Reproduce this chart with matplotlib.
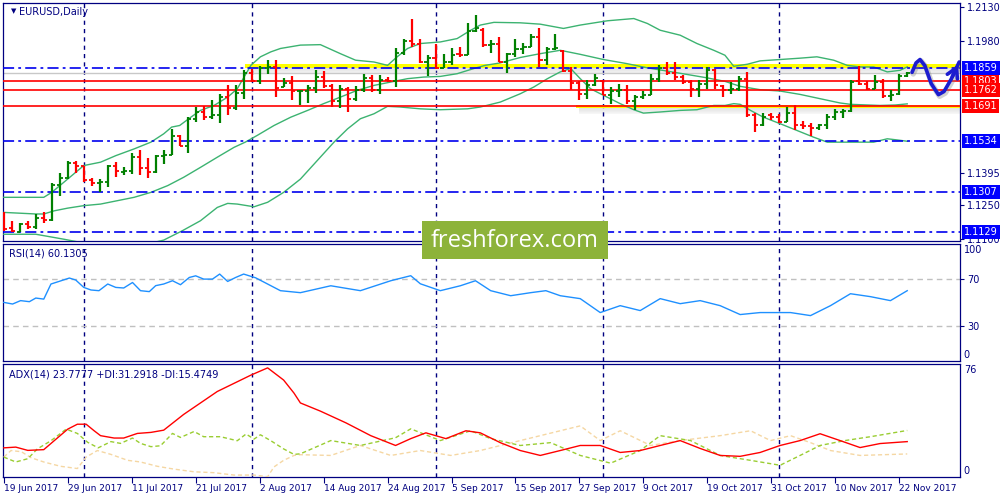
import matplotlib
matplotlib.use("Agg")
import matplotlib.pyplot as plt
from matplotlib.patches import Rectangle
import numpy as np

plt.rcParams['lines.scale_dashes'] = False
plt.rcParams['font.family'] = ['DejaVu Sans']

# daily bars, 19 Jun 2017 .. 23 Nov 2017 (trading days only)
opens = [1.1198, 1.1147, 1.1131, 1.1166, 1.1151, 1.1195, 1.1183, 1.1338, 1.1372, 1.1439,
         1.1424, 1.1363, 1.1348, 1.1351, 1.1423, 1.1398, 1.1401, 1.1466, 1.1413, 1.1398,
         1.1470, 1.1475, 1.1557, 1.1513, 1.1633, 1.1664, 1.1640, 1.1650, 1.1730, 1.1680,
         1.1750, 1.1838, 1.1801, 1.1860, 1.1863, 1.1777, 1.1792, 1.1755, 1.1756, 1.1770,
         1.1821, 1.1779, 1.1713, 1.1767, 1.1723, 1.1760, 1.1815, 1.1761, 1.1807, 1.1801,
         1.1924, 1.1978, 1.1968, 1.1888, 1.1904, 1.1859, 1.1888, 1.1920, 1.1916, 1.2025,
         1.2030, 1.1960, 1.1965, 1.1888, 1.1920, 1.1944, 1.1954, 1.1997, 1.1893, 1.1942,
         1.1935, 1.1848, 1.1792, 1.1745, 1.1785, 1.1800, 1.1740, 1.1755, 1.1762, 1.1712,
         1.1730, 1.1740, 1.1810, 1.1860, 1.1835, 1.1820, 1.1797, 1.1765, 1.1790, 1.1850,
         1.1780, 1.1760, 1.1765, 1.1810, 1.1650, 1.1604, 1.1650, 1.1640, 1.1619, 1.1660,
         1.1608, 1.1600, 1.1595, 1.1605, 1.1640, 1.1665, 1.1668, 1.1800, 1.1790, 1.1768,
         1.1795, 1.1733, 1.1742, 1.1822]
highs = [1.1218, 1.1180, 1.1173, 1.1180, 1.1211, 1.1218, 1.1347, 1.1392, 1.1448, 1.1448,
         1.1426, 1.1371, 1.1366, 1.1430, 1.1444, 1.1421, 1.1481, 1.1493, 1.1460, 1.1475,
         1.1493, 1.1589, 1.1560, 1.1640, 1.1686, 1.1689, 1.1718, 1.1742, 1.1782, 1.1782,
         1.1849, 1.1856, 1.1868, 1.1897, 1.1893, 1.1816, 1.1822, 1.1763, 1.1782, 1.1849,
         1.1846, 1.1790, 1.1782, 1.1775, 1.1778, 1.1831, 1.1827, 1.1827, 1.1820, 1.1946,
         1.1986, 1.2076, 1.1986, 1.1916, 1.1968, 1.1923, 1.1946, 1.1953, 1.2060, 1.2094,
         1.2035, 1.1983, 1.1998, 1.1926, 1.1990, 1.1971, 1.2010, 1.2035, 1.1953, 1.2010,
         1.1941, 1.1864, 1.1802, 1.1805, 1.1831, 1.1808, 1.1775, 1.1790, 1.1782, 1.1738,
         1.1757, 1.1831, 1.1871, 1.1886, 1.1886, 1.1827, 1.1805, 1.1805, 1.1864, 1.1857,
         1.1782, 1.1797, 1.1822, 1.1842, 1.1660, 1.1660, 1.1660, 1.1656, 1.1688, 1.1693,
         1.1623, 1.1614, 1.1612, 1.1656, 1.1678, 1.1678, 1.1805, 1.1867, 1.1802, 1.1827,
         1.1812, 1.1760, 1.1831, 1.1842]
lows = [1.1136, 1.1129, 1.1129, 1.1144, 1.1144, 1.1173, 1.1181, 1.1292, 1.1368, 1.1392,
        1.1352, 1.1337, 1.1307, 1.1329, 1.1377, 1.1386, 1.1389, 1.1386, 1.1370, 1.1393,
        1.1433, 1.1475, 1.1512, 1.1481, 1.1619, 1.1629, 1.1634, 1.1614, 1.1649, 1.1674,
        1.1723, 1.1797, 1.1787, 1.1831, 1.1730, 1.1775, 1.1718, 1.1693, 1.1704, 1.1748,
        1.1772, 1.1686, 1.1683, 1.1666, 1.1712, 1.1753, 1.1753, 1.1742, 1.1797, 1.1775,
        1.1916, 1.1953, 1.1882, 1.1822, 1.1857, 1.1858, 1.1871, 1.1909, 1.1916, 1.2020,
        1.1953, 1.1926, 1.1886, 1.1837, 1.1906, 1.1920, 1.1953, 1.1864, 1.1871, 1.1941,
        1.1842, 1.1760, 1.1718, 1.1721, 1.1778, 1.1738, 1.1698, 1.1730, 1.1701, 1.1671,
        1.1723, 1.1738, 1.1797, 1.1827, 1.1804, 1.1790, 1.1730, 1.1730, 1.1768, 1.1768,
        1.1730, 1.1745, 1.1757, 1.1641, 1.1574, 1.1600, 1.1628, 1.1614, 1.1619, 1.1585,
        1.1590, 1.1556, 1.1585, 1.1590, 1.1627, 1.1638, 1.1664, 1.1785, 1.1760, 1.1765,
        1.1727, 1.1712, 1.1738, 1.1819]
closes = [1.1146, 1.1134, 1.1166, 1.1152, 1.1195, 1.1183, 1.1338, 1.1372, 1.1439, 1.1424,
          1.1363, 1.1348, 1.1351, 1.1423, 1.1400, 1.1401, 1.1466, 1.1413, 1.1398, 1.1470,
          1.1475, 1.1557, 1.1513, 1.1633, 1.1664, 1.1640, 1.1650, 1.1730, 1.1680, 1.1750,
          1.1838, 1.1801, 1.1860, 1.1863, 1.1772, 1.1792, 1.1755, 1.1756, 1.1770, 1.1821,
          1.1779, 1.1713, 1.1767, 1.1723, 1.1760, 1.1815, 1.1761, 1.1807, 1.1801, 1.1924,
          1.1978, 1.1968, 1.1888, 1.1904, 1.1859, 1.1888, 1.1915, 1.1916, 1.2025, 1.2036,
          1.1960, 1.1965, 1.1888, 1.1920, 1.1944, 1.1954, 1.1997, 1.1893, 1.1942, 1.1950,
          1.1848, 1.1792, 1.1745, 1.1785, 1.1814, 1.1740, 1.1755, 1.1762, 1.1712, 1.1730,
          1.1740, 1.1810, 1.1860, 1.1835, 1.1820, 1.1797, 1.1765, 1.1790, 1.1850, 1.1785,
          1.1760, 1.1765, 1.1810, 1.1650, 1.1604, 1.1640, 1.1640, 1.1619, 1.1660, 1.1608,
          1.1600, 1.1595, 1.1605, 1.1640, 1.1665, 1.1668, 1.1795, 1.1790, 1.1768, 1.1795,
          1.1733, 1.1740, 1.1822, 1.1838]

# Bollinger bands (bar index, price)
bb_up_x = [0, 5, 6, 10, 12.1, 14, 16.3, 18.4, 20, 21, 22, 23.4, 24.6, 26.3, 28, 29.2, 30.9, 32.1,
           33.4, 34.6, 37.1, 39.6, 42.1, 44, 46.3, 48, 49.2, 50.5, 52.1, 54.6, 56.7, 58.4, 59.6,
           61.3, 64.6, 67.1, 70, 72.1, 75.5, 78.8, 80.5, 82.1, 84.6, 86.7, 88.8, 90.2, 91.3, 93,
           94.6, 97.1, 99.6, 101.7, 103.8, 105.5, 107.1, 108.8, 110.5, 112.1, 113]
bb_up = [1.1285, 1.1285, 1.1307, 1.1426, 1.1441, 1.1470, 1.1500, 1.1530, 1.1567, 1.1597, 1.1604,
         1.1641, 1.1671, 1.1693, 1.1730, 1.1767, 1.1871, 1.1909, 1.1931, 1.1946, 1.1961, 1.1963,
         1.1923, 1.1894, 1.1886, 1.1871, 1.1909, 1.1946, 1.1968, 1.1975, 1.1990, 1.2027, 1.2050,
         1.2062, 1.2060, 1.2054, 1.2035, 1.2050, 1.2069, 1.2079, 1.2057, 1.2027, 1.2005, 1.1968,
         1.1938, 1.1916, 1.1867, 1.1876, 1.1891, 1.1897, 1.1903, 1.1909, 1.1894, 1.1871, 1.1864,
         1.1864, 1.1842, 1.1849, 1.1864]
bb_mid_x = [0, 4, 5, 6.3, 8, 10, 12.1, 14.2, 16.3, 18.4, 20.5, 22.5, 24.6, 26.7, 28.8, 30.2, 31.7,
            33.8, 35.9, 38, 40, 42.1, 44.2, 46.3, 48.4, 50.5, 52.5, 54.6, 56.7, 58.8, 60.2, 62.1,
            64.6, 67.1, 69.6, 72.1, 75, 77.9, 80.5, 82.9, 85.4, 87.9, 90.2, 92.1, 94.6, 97.1, 99.6,
            102.1, 104.6, 105.9, 109.6, 111.5, 113]
bb_mid = [1.1218, 1.1211, 1.1211, 1.1225, 1.1237, 1.1248, 1.1255, 1.1270, 1.1285, 1.1307, 1.1337,
          1.1374, 1.1418, 1.1463, 1.1507, 1.1530, 1.1560, 1.1604, 1.1641, 1.1671, 1.1701, 1.1730,
          1.1760, 1.1782, 1.1797, 1.1812, 1.1819, 1.1822, 1.1834, 1.1857, 1.1871, 1.1882, 1.1906,
          1.1923, 1.1938, 1.1920, 1.1897, 1.1879, 1.1860, 1.1846, 1.1831, 1.1816, 1.1800, 1.1778,
          1.1763, 1.1757, 1.1742, 1.1723, 1.1704, 1.1698, 1.1693, 1.1695, 1.1700]
bb_lo_x = [0, 4, 7.5, 10, 14, 18, 20, 22.3, 24.6, 26.7, 28, 29.2, 31.3, 33, 35, 37.1, 39.2, 41.3,
           43, 44.6, 46.3, 48, 49.6, 52.1, 54.6, 58, 59.6, 62.1, 64.6, 66.3, 68, 69.6, 70.9, 72.1,
           73.4, 75, 77.1, 78.8, 80, 82.1, 84.6, 86.7, 88.8, 90.2, 91.3, 92.1, 93.4, 95, 97.1, 99.2,
           101.3, 103, 104.6, 108.8, 110.5, 111.7, 113]
bb_lo = [1.1121, 1.1121, 1.1099, 1.1082, 1.1070, 1.1078, 1.1095, 1.1136, 1.1181, 1.1240, 1.1258,
         1.1255, 1.1243, 1.1263, 1.1307, 1.1366, 1.1448, 1.1530, 1.1589, 1.1634, 1.1656, 1.1689,
         1.1686, 1.1678, 1.1674, 1.1678, 1.1686, 1.1708, 1.1745, 1.1775, 1.1812, 1.1842, 1.1857,
         1.1812, 1.1767, 1.1738, 1.1701, 1.1674, 1.1659, 1.1664, 1.1671, 1.1674, 1.1693, 1.1693,
         1.1701, 1.1698, 1.1671, 1.1641, 1.1612, 1.1582, 1.1552, 1.1530, 1.1530, 1.1530, 1.1545,
         1.1540, 1.1534]

# RSI(14)
rsi_x = [0, 1.1, 2.1, 3.2, 4, 5, 5.9, 6.9, 8.2, 9, 10, 10.9, 11.9, 13, 14, 15, 16.1, 17.1, 18.2,
         19, 20, 21.1, 22.1, 23.2, 24, 25, 26.1, 27, 28, 29, 30, 31.5, 34.6, 37.1, 40.9, 44.6,
         48.4, 50.9, 52.1, 54.6, 57.1, 59, 60.9, 63.4, 65.9, 67.8, 69.6, 72.1, 74.6, 77.1, 79.6,
         82.1, 84.6, 87.1, 89.6, 92.1, 94.6, 98.4, 100.9, 103.4, 105.9, 108.4, 110.9, 113]
rsi = [50.1, 48.7, 51.6, 50.7, 53.8, 52.9, 65.8, 68.0, 70.9, 69.2, 62.9, 60.7, 60.1, 65.8, 62.9,
       62.4, 67.1, 60.1, 59.3, 64.4, 65.8, 68.6, 65.2, 71.4, 72.8, 70.0, 70.0, 74.3, 68.0, 71.4,
       74.3, 71.1, 60.1, 58.4, 64.3, 60.1, 68.6, 72.9, 66.0, 60.1, 64.3, 68.6, 60.1, 55.8, 58.4,
       60.1, 55.8, 53.3, 41.4, 47.3, 43.1, 53.3, 49.0, 51.6, 47.3, 39.7, 41.4, 41.4, 38.8, 47.3,
       57.5, 55.0, 51.6, 60.1]

# ADX(14), +DI, -DI
adx_x = [0, 1.5, 3, 5, 6.3, 8, 9.2, 10.3, 11.3, 12.1, 13.8, 15, 16.7, 18.4, 20, 22.5, 24.6, 26.7,
         28.8, 30.9, 33, 35, 36.3, 37.1, 39.6, 42.8, 45.9, 49, 50.9, 52.8, 55.3, 57.8, 59.6, 62.1,
         64.6, 67.1, 69.6, 72.1, 74.6, 77.1, 79.6, 82.1, 84.6, 87.1, 89.6, 92.1, 94.6, 97.1, 99.6,
         102.1, 104.6, 107.1, 109.6, 113]
adx = [19.6, 20.1, 17.9, 18.4, 24.4, 32.2, 35.5, 35.5, 31.1, 27.8, 26.2, 26.2, 29.3, 30.0, 31.5,
       42.1, 49.8, 57.5, 63.0, 68.5, 73.4, 65.2, 56.4, 49.8, 44.3, 36.4, 27.8, 21.2, 25.8, 29.7,
       25.8, 31.1, 29.7, 23.1, 17.8, 14.5, 17.8, 21.2, 21.2, 16.5, 17.8, 21.2, 24.5, 19.2, 14.5,
       13.9, 16.5, 21.2, 24.5, 29.1, 24.5, 19.8, 22.5, 23.8]
pdi_x = [0, 1.5, 3, 4.2, 5.9, 7.8, 9.2, 10.5, 11.8, 13.4, 14.6, 16.1, 17.1, 18.4, 19.6, 21.1, 22.1,
         23.8, 25, 27.1, 29.2, 30.3, 31.3, 32.1, 33.4, 35, 36.3, 37.1, 40.9, 44.6, 49, 50.9, 54.6,
         58.4, 60.9, 64.6, 68.4, 72.1, 75.9, 79.6, 82.1, 85.9, 89.6, 93.4, 97.1, 99.6, 102.1,
         105.2, 108.4, 113]
pdi = [13.4, 10.1, 12.3, 18.9, 24.4, 32.2, 29.3, 23.3, 19.6, 23.8, 22.6, 26.2, 22.6, 20.4, 21.0,
       29.3, 26.6, 30.6, 27.1, 27.1, 24.4, 28.9, 25.5, 28.4, 24.4, 18.9, 15.2, 15.6, 24.5, 21.2,
       26.4, 32.4, 24.5, 31.1, 25.8, 21.2, 23.1, 14.5, 9.3, 17.8, 27.8, 24.5, 14.5, 11.2, 7.9,
       14.5, 21.2, 24.5, 27.1, 31.3]
mdi_x = [0, 0.9, 2.2, 3.4, 5, 7.1, 9.2, 10.3, 11.7, 13.4, 15.5, 17.1, 19.2, 21.3, 23.8, 26.3, 28.8,
         31.3, 33, 33.8, 35, 36.3, 37.1, 40.9, 44.6, 48.4, 52.1, 55.9, 59.6, 64.6, 69.6, 72.1,
         74.6, 77.1, 80.9, 84.6, 89.6, 93.4, 95.9, 98.4, 100.9, 103.4, 107.1, 113]
mdi = [13.4, 17.8, 17.0, 13.0, 10.1, 7.2, 5.7, 13.4, 17.8, 15.2, 11.2, 10.1, 7.2, 5.3, 3.5, 2.9,
       1.3, 1.3, 0.2, 6.8, 11.2, 14.5, 15.0, 14.5, 21.2, 14.5, 17.8, 14.5, 17.8, 24.5, 31.1, 34.4,
       24.5, 31.1, 21.2, 24.5, 27.8, 31.1, 24.5, 27.8, 23.1, 17.8, 14.5, 15.5]

# levels drawn on the chart
blue_levels = [1.1859, 1.1534, 1.1307, 1.1129]
red_levels = [1.1803, 1.1762, 1.1691]
price_ticks = [1.2130, 1.1980, 1.1395, 1.1250, 1.1100]

# hand drawn forecast path
path_x = [113.6, 114.1, 114.6, 115.2, 116.0, 116.9, 117.6, 118.5, 119.5]
path_y = [1.1840, 1.1882, 1.1897, 1.1870, 1.1790, 1.1741, 1.1755, 1.1810, 1.1886]

tick_bars = [0, 8, 16, 24, 32, 40, 48, 56, 64, 72, 80, 88, 96, 104, 112]
tick_labels = ['19 Jun 2017', '29 Jun 2017', '11 Jul 2017', '21 Jul 2017', '2 Aug 2017',
               '14 Aug 2017', '24 Aug 2017', '5 Sep 2017', '15 Sep 2017', '27 Sep 2017',
               '9 Oct 2017', '19 Oct 2017', '31 Oct 2017', '10 Nov 2017', '22 Nov 2017']
month_bars = [10, 31, 54, 75, 97]

NAVY = '#000080'
W, H = 1000, 500


def rect(l, t, r, b):
    return [l / W, 1 - b / H, (r - l) / W, (b - t) / H]


fig = plt.figure(figsize=(10, 5), dpi=100)
ax = fig.add_axes(rect(3, 3, 960, 241))
ax_rsi = fig.add_axes(rect(3, 244, 960, 361))
ax_adx = fig.add_axes(rect(3, 364, 960, 477))

XMAX = 119.6
for a in (ax, ax_rsi, ax_adx):
    a.set_xlim(-0.1, XMAX)
    for s in a.spines.values():
        s.set_color(NAVY)
        s.set_linewidth(0.9)
    a.yaxis.tick_right()
    a.tick_params(axis='y', colors=NAVY, labelcolor=NAVY, labelsize=7, length=3, width=0.8, pad=2)
    a.tick_params(axis='x', length=0)
    a.set_xticks([])
    for b in month_bars:
        a.axvline(b, color=NAVY, lw=1, ls=(0, (3, 3)), zorder=1)

# ---- main price panel
ax.set_ylim(1.1091, 1.2148)
n = len(closes)
xs = np.arange(n)
ax.plot(bb_up_x, bb_up, color='#3cb371', lw=1, zorder=3)
ax.plot(bb_mid_x, bb_mid, color='#3cb371', lw=1, zorder=3)
ax.plot(bb_lo_x, bb_lo, color='#3cb371', lw=1, zorder=3)

# yellow highlight bands with soft gray shadow
for x0, top, bot in [(30.2, 1.1878, 1.1860), (71.6, 1.1697, 1.1683)]:
    for k in range(6):
        ax.fill_between([x0 + 0.3, XMAX], bot - 0.0002 - k * 0.0004, bot - 0.0006 - k * 0.0004,
                        color='gray', alpha=0.22 - k * 0.03, lw=0, zorder=2)
    ax.fill_between([x0, XMAX], bot, top, color='#ffff00', lw=0, zorder=2)

ax.axhline(closes[-1], color='#c8c8c8', lw=1, zorder=2)
for lv in red_levels:
    ax.axhline(lv, color='red', lw=1.2, zorder=4)
for lv in blue_levels:
    ax.axhline(lv, color='#0000ee', lw=1.2, ls=(0, (8, 3, 2, 3)), zorder=4)

for i in range(n):
    c = '#008000' if closes[i] >= opens[i] else '#ff0000'
    ax.vlines(xs[i], lows[i], highs[i], color=c, lw=1.6, zorder=5)
    ax.hlines(opens[i], xs[i] - 0.38, xs[i], color=c, lw=1.3, zorder=5)
    ax.hlines(closes[i], xs[i], xs[i] + 0.38, color=c, lw=1.3, zorder=5)

# forecast wave
ax.plot(np.array(path_x) + 0.15, np.array(path_y) - 0.0007, color='gray', lw=4, alpha=0.35,
        solid_capstyle='round', zorder=6)
ax.plot(path_x, path_y, color='#1c1ccf', lw=2.6, solid_capstyle='round', zorder=7)
ax.annotate('', xy=(path_x[-1], path_y[-1]), xytext=(path_x[-2], path_y[-2]),
            arrowprops=dict(arrowstyle='->,head_length=0.7,head_width=0.4', color='#1c1ccf', lw=2.6),
            zorder=7)

ax.set_yticks(price_ticks)
ax.set_yticklabels(['%.4f' % p for p in price_ticks])
ytr = ax.get_yaxis_transform()
ax.text(1.004, closes[-1], '%.4f' % closes[-1], transform=ytr, color='white', fontsize=7,
        va='center', ha='left', bbox=dict(boxstyle='square,pad=0.2', fc='#b0b0b0', ec='none'))
for lv in red_levels:
    ax.text(1.004, lv, '%.4f' % lv, transform=ytr, color='white', fontsize=7, va='center',
            ha='left', bbox=dict(boxstyle='square,pad=0.2', fc='#ff0000', ec='none'))
for lv in blue_levels:
    ax.text(1.004, lv, '%.4f' % lv, transform=ytr, color='white', fontsize=7, va='center',
            ha='left', bbox=dict(boxstyle='square,pad=0.2', fc='#0000ff', ec='none'))

ax.text(0.008, 0.978, u'\u25BC', transform=ax.transAxes, color=NAVY, fontsize=5, va='top')
ax.text(0.017, 0.982, 'EURUSD,Daily', transform=ax.transAxes, color=NAVY, fontsize=7, va='top')

# ---- RSI panel
ax_rsi.set_ylim(0, 100)
ax_rsi.axhline(70, color='#c0c0c0', lw=1, ls=(0, (4, 3)))
ax_rsi.axhline(30, color='#c0c0c0', lw=1, ls=(0, (4, 3)))
ax_rsi.plot(rsi_x, rsi, color='#1e90ff', lw=1, zorder=3)
ax_rsi.set_yticks([70, 30])
ytr = ax_rsi.get_yaxis_transform()
ax_rsi.text(1.004, 99, '100', transform=ytr, color=NAVY, fontsize=7, va='top')
ax_rsi.text(1.004, 1, '0', transform=ytr, color=NAVY, fontsize=7, va='bottom')
ax_rsi.text(0.006, 0.96, 'RSI(14) 60.1305', transform=ax_rsi.transAxes, color=NAVY,
            fontsize=7, va='top')

# ---- ADX panel
ax_adx.set_ylim(0, 76)
ax_adx.plot(mdi_x, mdi, color='#f5d7a3', lw=1, ls=(0, (3, 2)), zorder=3)
ax_adx.plot(pdi_x, pdi, color='#9acd32', lw=1, ls=(0, (3, 2)), zorder=3)
ax_adx.plot(adx_x, adx, color='#ff0000', lw=1, zorder=4)
ax_adx.set_yticks([])
ytr = ax_adx.get_yaxis_transform()
ax_adx.text(1.004, 75.5, '76', transform=ytr, color=NAVY, fontsize=7, va='top')
ax_adx.text(1.004, 0.5, '0', transform=ytr, color=NAVY, fontsize=7, va='bottom')
ax_adx.text(0.006, 0.95, 'ADX(14) 23.7777 +DI:31.2918 -DI:15.4749', transform=ax_adx.transAxes,
            color=NAVY, fontsize=7, va='top')

ax_adx.set_xticks(tick_bars)
ax_adx.set_xticklabels(tick_labels)
ax_adx.tick_params(axis='x', length=4, width=0.8, colors=NAVY, labelcolor=NAVY, labelsize=6.5, pad=1)
for lab in ax_adx.get_xticklabels():
    lab.set_horizontalalignment('left')

# watermark
fig.patches.append(Rectangle((422 / W, 1 - 259 / H), 186 / W, 38 / H, transform=fig.transFigure,
                             fc='#8db33a', ec='none', zorder=10))
fig.text(515 / W, 1 - 241 / H, 'freshforex.com', color='white', fontsize=17, family='Open Sans',
         ha='center', va='center', zorder=11)

fig.savefig('out.png', dpi=100)
